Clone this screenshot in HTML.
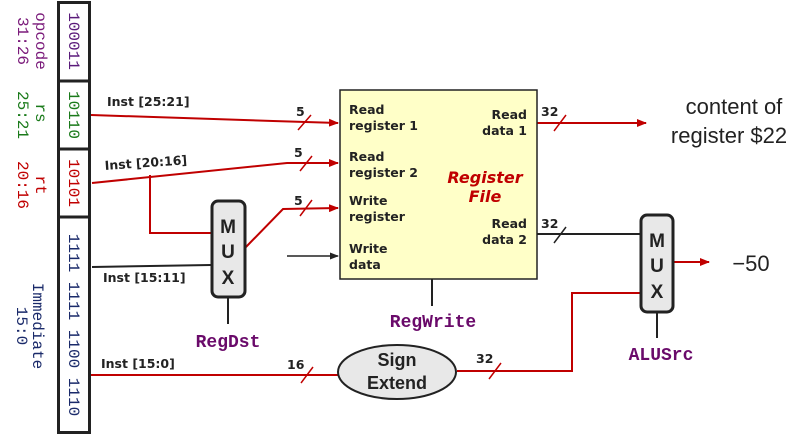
<!DOCTYPE html>
<html><head><style>body{margin:0;background:#fff}svg{display:block}</style></head><body>
<svg width="809" height="435" viewBox="0 0 809 435" xmlns="http://www.w3.org/2000/svg">
<defs>
<marker id="ar" markerWidth="10" markerHeight="8" refX="9" refY="4" orient="auto" markerUnits="userSpaceOnUse"><path d="M0,0 L10,4 L0,8 z" fill="#c00000"/></marker>
<marker id="ak" markerWidth="9" markerHeight="7" refX="8" refY="3.5" orient="auto" markerUnits="userSpaceOnUse"><path d="M0,0 L9,3.5 L0,7 z" fill="#222"/></marker>
</defs>
<rect x="58.5" y="2.5" width="31" height="430" fill="#fff" stroke="#222" stroke-width="3"/>
<line x1="58" y1="81" x2="90" y2="81" stroke="#222" stroke-width="3"/>
<line x1="58" y1="149" x2="90" y2="149" stroke="#222" stroke-width="3"/>
<line x1="58" y1="217" x2="90" y2="217" stroke="#222" stroke-width="3"/>
<g font-family="Liberation Mono, monospace" font-size="16">
<text transform="translate(69,41) rotate(90)" text-anchor="middle" fill="#5a1a7a">100011</text>
<text transform="translate(69,115) rotate(90)" text-anchor="middle" fill="#1a7a1a">10110</text>
<text transform="translate(69,183) rotate(90)" text-anchor="middle" fill="#c00000">10101</text>
<text transform="translate(69,325) rotate(90)" text-anchor="middle" fill="#1a2a6a">1111 1111 1100 1110</text>
<text transform="translate(36,41) rotate(90)" text-anchor="middle" fill="#7a1a7a">opcode</text>
<text transform="translate(18,41) rotate(90)" text-anchor="middle" fill="#7a1a7a">31:26</text>
<text transform="translate(36,113) rotate(90)" text-anchor="middle" fill="#1a7a1a">rs</text>
<text transform="translate(18,115) rotate(90)" text-anchor="middle" fill="#1a7a1a">25:21</text>
<text transform="translate(36,185) rotate(90)" text-anchor="middle" fill="#c00000">rt</text>
<text transform="translate(18,185) rotate(90)" text-anchor="middle" fill="#c00000">20:16</text>
<text transform="translate(33,326) rotate(90)" text-anchor="middle" fill="#1a2a6a">Immediate</text>
<text transform="translate(17,326) rotate(90)" text-anchor="middle" fill="#1a2a6a">15:0</text>
</g>
<g fill="none" stroke-width="2">
<polyline points="91,115 273,121 338,123" stroke="#c00000" marker-end="url(#ar)"/>
<polyline points="92,183 287,163 338,163" stroke="#c00000" marker-end="url(#ar)"/>
<polyline points="150,175 150,233 211,233" stroke="#c00000"/>
<polyline points="245,248 283,209 338,208" stroke="#c00000" marker-end="url(#ar)"/>
<line x1="92" y1="267" x2="211" y2="265" stroke="#222"/>
<line x1="287" y1="256" x2="338" y2="256" stroke="#222" stroke-width="1.5" marker-end="url(#ak)"/>
<line x1="228" y1="297" x2="228" y2="324" stroke="#222"/>
<line x1="432" y1="279" x2="432" y2="306" stroke="#222"/>
<line x1="91" y1="375" x2="338" y2="375" stroke="#c00000"/>
<polyline points="457,371 572,371 572,293 641,293" stroke="#c00000"/>
<line x1="537" y1="123" x2="646" y2="123" stroke="#c00000" marker-end="url(#ar)"/>
<line x1="537" y1="234" x2="641" y2="234" stroke="#222"/>
<line x1="673" y1="262" x2="709" y2="262" stroke="#c00000" marker-end="url(#ar)"/>
<line x1="657" y1="312" x2="657" y2="338" stroke="#222"/>
</g>
<g stroke-width="1.5">
<line x1="298" y1="130" x2="311" y2="115" stroke="#c00000"/>
<line x1="300" y1="171" x2="312" y2="156" stroke="#c00000"/>
<line x1="300" y1="216" x2="312" y2="200" stroke="#c00000"/>
<line x1="301" y1="383" x2="313" y2="367" stroke="#c00000"/>
<line x1="489" y1="379" x2="501" y2="363" stroke="#c00000"/>
<line x1="554" y1="131" x2="566" y2="115" stroke="#c00000"/>
<line x1="554" y1="243" x2="566" y2="227" stroke="#222"/>
</g>
<rect x="340" y="90" width="197" height="189" fill="#ffffc8" stroke="#222" stroke-width="1.5"/>
<g font-family="DejaVu Sans, Verdana, sans-serif" font-weight="bold" font-size="12.5" fill="#222">
<text x="349" y="114">Read</text><text x="349" y="130">register 1</text>
<text x="349" y="161">Read</text><text x="349" y="177">register 2</text>
<text x="349" y="205">Write</text><text x="349" y="221">register</text>
<text x="349" y="253">Write</text><text x="349" y="269">data</text>
<text x="527" y="119" text-anchor="end">Read</text><text x="527" y="135" text-anchor="end">data 1</text>
<text x="527" y="228" text-anchor="end">Read</text><text x="527" y="244" text-anchor="end">data 2</text>
<text x="107" y="106">Inst [25:21]</text>
<text x="105" y="170" transform="rotate(-4 105 170)">Inst [20:16]</text>
<text x="103" y="282">Inst [15:11]</text>
<text x="101" y="368">Inst [15:0]</text>
<text x="296" y="116">5</text><text x="294" y="157">5</text><text x="294" y="205">5</text>
<text x="287" y="369">16</text><text x="476" y="363">32</text>
<text x="541" y="116">32</text><text x="541" y="228">32</text>
</g>
<text x="485" y="183" text-anchor="middle" font-family="DejaVu Sans, sans-serif" font-weight="bold" font-style="italic" font-size="16" fill="#c00000">Register</text>
<text x="485" y="202" text-anchor="middle" font-family="DejaVu Sans, sans-serif" font-weight="bold" font-style="italic" font-size="16" fill="#c00000">File</text>
<rect x="212" y="201" width="33" height="96" rx="6" fill="#e8e8e8" stroke="#222" stroke-width="3"/>
<rect x="641" y="215" width="32" height="97" rx="6" fill="#e8e8e8" stroke="#222" stroke-width="3"/>
<g font-family="Liberation Sans, sans-serif" font-weight="bold" font-size="19" fill="#222" text-anchor="middle">
<text x="228" y="233">M</text><text x="228" y="258">U</text><text x="228" y="284">X</text>
<text x="657" y="247">M</text><text x="657" y="272">U</text><text x="657" y="298">X</text>
</g>
<ellipse cx="397" cy="372" rx="59" ry="27" fill="#e8e8e8" stroke="#222" stroke-width="2"/>
<text x="397" y="366" text-anchor="middle" font-family="Liberation Sans, sans-serif" font-weight="bold" font-size="18" fill="#222">Sign</text>
<text x="397" y="389" text-anchor="middle" font-family="Liberation Sans, sans-serif" font-weight="bold" font-size="18" fill="#222">Extend</text>
<g font-family="Liberation Mono, monospace" font-weight="bold" font-size="18" fill="#6a0a6a">
<text x="228" y="347" text-anchor="middle">RegDst</text>
<text x="433" y="327" text-anchor="middle">RegWrite</text>
<text x="661" y="360" text-anchor="middle">ALUSrc</text>
</g>
<g font-family="Liberation Sans, sans-serif" font-size="22" fill="#222">
<text x="734" y="114" text-anchor="middle">content of</text>
<text x="729" y="143" text-anchor="middle">register $22</text>
<text x="751" y="271" text-anchor="middle">−50</text>
</g>
</svg>
</body></html>
